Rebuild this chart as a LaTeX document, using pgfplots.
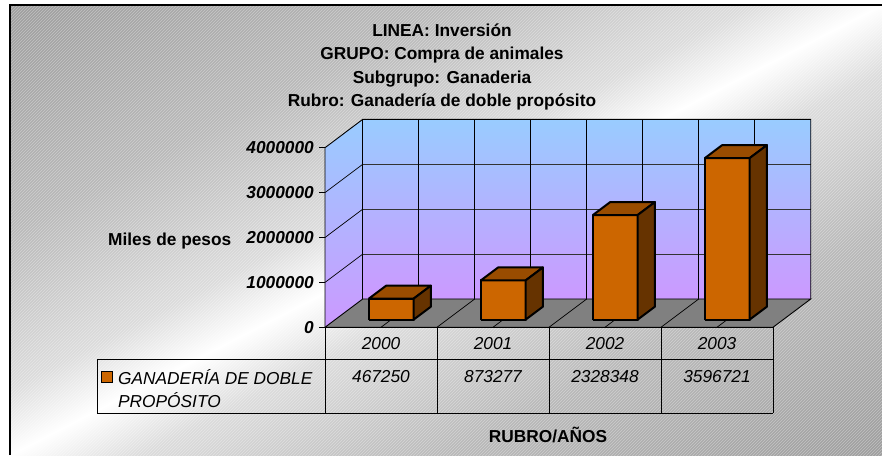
\documentclass[border=0pt]{standalone}
\usepackage{pgfplots}
\pgfplotsset{compat=1.18}
\usetikzlibrary{patterns}
\usepackage{fontspec}
\setmainfont{Liberation Sans}
\definecolor{barfront}{RGB}{204,102,0}
\definecolor{bartop}{RGB}{153,76,0}
\definecolor{barside}{RGB}{102,51,0}
\definecolor{floorc}{RGB}{128,128,128}
\definecolor{walltop}{RGB}{153,204,255}
\definecolor{wallbot}{RGB}{204,153,255}
\definecolor{bgA}{RGB}{150,150,150}
\definecolor{bgB}{RGB}{158,158,158}
\definecolor{bgC}{RGB}{185,185,185}
\definecolor{bgD}{RGB}{220,220,220}
\pgfdeclareverticalshading{bgshade}{100bp}{color(0bp)=(bgA); color(25bp)=(bgA); color(30bp)=(bgB); color(40bp)=(bgC); color(47bp)=(bgD); color(50bp)=(white); color(53bp)=(bgD); color(60bp)=(bgC); color(70bp)=(bgB); color(75bp)=(bgA); color(100bp)=(bgA)}

% one 3-D bar: #1 = category index (0,1,2,...), #2 = value (miles de pesos)
\newcommand{\cuboid}[2]{%
  \edef\xa{\fpeval{#1+0.3}}%
  \edef\xb{\fpeval{#1+0.7}}%
  \edef\hh{\fpeval{#2/1000000}}%
  \edef\tmp{%
   \noexpand\addplot3[fill=barfront, draw=black, line width=2pt, line join=round] coordinates {(\xa,0.27,0) (\xb,0.27,0) (\xb,0.27,\hh) (\xa,0.27,\hh) (\xa,0.27,0)};
   \noexpand\addplot3[fill=bartop, draw=black, line width=2pt, line join=round] coordinates {(\xa,0.27,\hh) (\xb,0.27,\hh) (\xb,0.73,\hh) (\xa,0.73,\hh) (\xa,0.27,\hh)};
   \noexpand\addplot3[fill=barside, draw=black, line width=2pt, line join=round] coordinates {(\xb,0.27,0) (\xb,0.73,0) (\xb,0.73,\hh) (\xb,0.27,\hh) (\xb,0.27,0)};
  }\tmp}

\begin{document}
\begin{tikzpicture}
\useasboundingbox (0,0) rectangle (882pt,455pt);
\fill[white] (0,0) rectangle (882pt,455pt);
\begin{scope}
  \clip (10pt,0pt) rectangle (882pt,450pt);
  \shade[shading=bgshade, shading angle=27.3] (-54pt,-275pt) rectangle (946pt,725pt);
  \fill[pattern=north east lines, pattern color=white, opacity=0.35] (10pt,0pt) rectangle (882pt,450pt);
\end{scope}
\draw[line width=1.3pt] (10pt,0pt) -- (10pt,450pt) -- (882pt,450pt);

\begin{axis}[
  x={(112pt,0pt)}, y={(37.7pt,28.3pt)}, z={(0pt,44.9pt)},
  xmin=0, xmax=4, ymin=0, ymax=1, zmin=0, zmax=4,
  hide axis, clip=false,
  anchor=origin, at={(325pt,127.7pt)},
]
% walls
\shade[bottom color=wallbot, top color=walltop] (0,1,0) -- (4,1,0) -- (4,1,4) -- (0,1,4) -- cycle;
\shade[bottom color=wallbot, top color=walltop] (0,0,0) -- (0,1,0) -- (0,1,4) -- (0,0,4) -- cycle;
% grid
\pgfplotsinvokeforeach{1,2,3}{
  \draw[black!80, line width=1pt] (0,1,#1) -- (4,1,#1);
  \draw[black, line width=0.7pt] (0,0,#1) -- (0,1,#1);
}
\pgfplotsinvokeforeach{0.5,1,1.5,2,2.5,3,3.5}{
  \draw[black, line width=0.8pt] (#1,1,0) -- (#1,1,4);
}
\draw[black, line width=0.9pt] (0,0,0) -- (0,0,4) -- (0,1,4) -- (4,1,4) -- (4,1,0);
\draw[black, line width=0.9pt] (0,1,0) -- (0,1,4);
% floor
\addplot3[fill=floorc, draw=black, line width=0.9pt] coordinates {(0,0,0) (4,0,0) (4,1,0) (0,1,0) (0,0,0)};
\pgfplotsinvokeforeach{1,2,3}{
  \draw[black, line width=0.7pt] (#1,0,0) -- (#1,1,0);
}
\pgfplotsinvokeforeach{0.5,1.5,2.5,3.5}{
  \draw[black, line width=0.7pt] (#1,0,0) -- (#1,0.27,0);
}
% bars
\cuboid{0}{467250}
\cuboid{1}{873277}
\cuboid{2}{2328348}
\cuboid{3}{3596721}
\end{axis}

\begin{scope}[shift={(0pt,455pt)}, x=1pt, y=-1pt]
  \fontsize{17.3}{20}\selectfont
  % title
  \node[anchor=base, font=\bfseries] at (442,36.7) {LINEA: Inversión};
  \node[anchor=base, font=\bfseries] at (442,60) {GRUPO: Compra de animales};
  \node[anchor=base, font=\bfseries] at (442,83.3) {Subgrupo: Ganaderia};
  \node[anchor=base, font=\bfseries] at (442,106.6) {Rubro: Ganadería de doble propósito};
  % value axis
  \node[anchor=base west, font=\bfseries, inner sep=0pt] at (108,246) {Miles de pesos};
  \foreach \k/\lab in {0/0,1/1000000,2/2000000,3/3000000,4/4000000}{
    \draw[line width=0.8pt] (319,{327.3-44.9*\k}) -- (325,{327.3-44.9*\k});
    \node[anchor=east, font=\bfseries\itshape, inner sep=0pt] at (314,{327.3-44.9*\k}) {\lab};
  }
  % data table
  \draw[line width=0.8pt] (97,359) -- (773,359);
  \draw[line width=0.8pt] (97,413) -- (773,413);
  \draw[line width=0.8pt] (97,359) -- (97,413);
  \foreach \xx in {325,437,549,661,773}{
    \draw[line width=0.8pt] (\xx,327.3) -- (\xx,413);
  }
  \foreach \xx/\yr/\val in {381/2000/467250, 493/2001/873277, 605/2002/2328348, 717/2003/3596721}{
    \node[anchor=base, font=\itshape, inner sep=0pt] at (\xx,349) {\yr};
    \node[anchor=base, font=\itshape, inner sep=0pt] at (\xx,382) {\val};
  }
  \filldraw[fill=barfront, draw=black, line width=1pt] (101,371) rectangle (112,382);
  \node[anchor=base west, font=\itshape, inner sep=0pt] at (118,384) {GANADERÍA DE DOBLE};
  \node[anchor=base west, font=\itshape, inner sep=0pt] at (118,407) {PROPÓSITO};
  \node[anchor=base, font=\bfseries, inner sep=0pt] at (548,442) {RUBRO/AÑOS};
\end{scope}
\end{tikzpicture}
\end{document}
